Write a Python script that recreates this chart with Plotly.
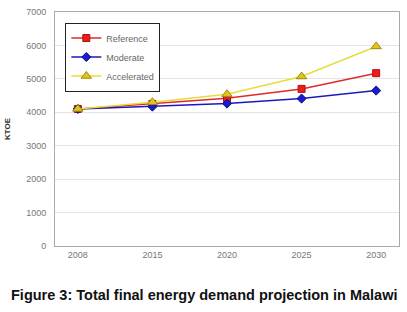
import plotly.graph_objects as go

years = ["2008", "2015", "2020", "2025", "2030"]
reference = [4100, 4250, 4420, 4700, 5170]
moderate = [4100, 4170, 4260, 4410, 4650]
accelerated = [4100, 4300, 4540, 5070, 5970]
y_ticks = [0, 1000, 2000, 3000, 4000, 5000, 6000, 7000]

fig = go.Figure()
fig.add_trace(go.Scatter(x=years, y=reference, name="Reference", mode="lines+markers",
                         line=dict(color="#e02a2a", width=1.5),
                         marker=dict(symbol="square", size=7, color="#ee1c1c",
                                     line=dict(color="#b01010", width=1))))
fig.add_trace(go.Scatter(x=years, y=moderate, name="Moderate", mode="lines+markers",
                         line=dict(color="#1a1ab8", width=1.5),
                         marker=dict(symbol="diamond", size=7, color="#1a1ad0",
                                     line=dict(color="#101080", width=1))))
fig.add_trace(go.Scatter(x=years, y=accelerated, name="Accelerated", mode="lines+markers",
                         line=dict(color="#e8dc3c", width=1.5),
                         marker=dict(symbol="triangle-up", size=9, color="#e0c418",
                                     line=dict(color="#a08a10", width=1))))

fig.update_layout(
    width=407, height=312,
    margin=dict(l=53, r=7, t=10, b=66),
    paper_bgcolor="white", plot_bgcolor="white",
    font=dict(family="Liberation Sans, Arial", size=9, color="#777777"),
    showlegend=True,
    legend=dict(x=0.03, y=0.955, xanchor="left", yanchor="top",
                bgcolor="white", bordercolor="#222222", borderwidth=1,
                font=dict(size=9, color="#666666"),
                tracegroupgap=0, itemwidth=30),
    xaxis=dict(type="category", showgrid=False, showline=True, linecolor="#aaaaaa",
               linewidth=1, mirror=True, ticks="", tickfont=dict(size=9, color="#777777")),
    yaxis=dict(range=[0, 7000], tickvals=y_ticks, showgrid=True, gridcolor="#e4e4e4",
               showline=True, linecolor="#aaaaaa", linewidth=1, mirror=True,
               ticks="", ticklabelstandoff=6, tickfont=dict(size=9, color="#777777"),
               title=dict(text="<b>KTOE</b>", font=dict(size=8, color="#333333"), standoff=14),
               zeroline=False),
    annotations=[dict(text="<b>Figure 3: Total final energy demand projection in Malawi</b>",
                      xref="paper", x=0.0, xanchor="center", yref="paper", y=-0.165,
                      yanchor="top", showarrow=False,
                      font=dict(family="Liberation Sans, Arial", size=14.5, color="#111111"))],
)
# center caption across the full figure width
fig.layout.annotations[0].x = (407 / 2 - 53) / (407 - 53 - 7)

fig.write_html("out.html", config={"displayModeBar": False})
with open("out.html", "r", encoding="utf-8") as f:
    html = f.read()
html = html.replace("<head>", "<head><style>html,body{margin:0;padding:0;overflow:hidden}</style>", 1)
with open("out.html", "w", encoding="utf-8") as f:
    f.write(html)
